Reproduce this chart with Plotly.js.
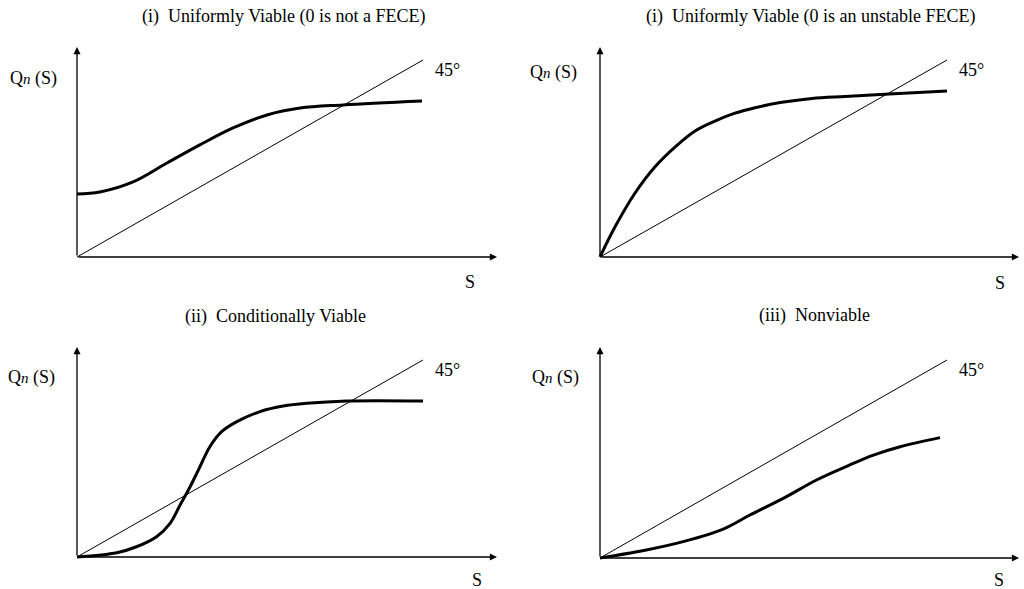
<!DOCTYPE html>
<html><head><meta charset="utf-8">
<script src="https://cdn.plot.ly/plotly-3.0.1.min.js"></script>
<style>html,body{margin:0;padding:0;background:#fff}#chart{width:1024px;height:589px}</style>
</head><body><div id="chart"></div>
<script>
// ---- data ----
const panelTitles = [
  "(i)\u00A0 Uniformly Viable (0 is not a FECE)",
  "(i)\u00A0 Uniformly Viable (0 is an unstable FECE)",
  "(ii)\u00A0 Conditionally Viable",
  "(iii)\u00A0 Nonviable"
];
const yLabel = "Q<i><span style=\"font-size:15px\">n</span></i> (S)";
const xLabel = "S";
const diagLabel = "45°";
const diagX = [0, 10];
const diagY = [0, 10];
const curve1X = [0, 0.66, 1.62, 2.6, 3.55, 4.51, 5.49, 6.45, 7.69, 9.97];
const curve1Y = [3.2, 3.30, 3.81, 4.77, 5.69, 6.55, 7.21, 7.56, 7.72, 7.92];
const curve2X = [0, 0.43, 1.01, 1.58, 2.16, 2.74, 3.31, 3.89, 4.47, 5.24, 6.11, 7.06, 8.33, 10];
const curve2Y = [0, 1.52, 3.25, 4.57, 5.58, 6.40, 6.90, 7.30, 7.58, 7.85, 8.05, 8.15, 8.27, 8.43];
const curve3X = [0, 1.15, 1.72, 2.30, 2.69, 2.98, 3.22, 3.51, 3.84, 4.18, 4.62, 5.29, 5.96, 6.64, 7.80, 10];
const curve3Y = [0, 0.22, 0.52, 1.03, 1.71, 2.64, 3.40, 4.42, 5.60, 6.36, 6.87, 7.38, 7.66, 7.80, 7.92, 7.92];
const curve4X = [0, 1.30, 2.45, 3.55, 4.32, 5.28, 6.24, 7.20, 7.88, 8.65, 9.80];
const curve4Y = [0, 0.39, 0.85, 1.46, 2.17, 3.01, 3.94, 4.70, 5.20, 5.62, 6.08];
const curvesX = [curve1X, curve2X, curve3X, curve4X];
const curvesY = [curve1Y, curve2Y, curve3Y, curve4Y];

// ---- layout geometry (pixels) ----
const W = 1024, H = 589;
const geo = [
  {ox: 77,  oy: 257, ux: 34.6, uy: 19.7, tipX: 497,  tipY: 47,  title: [284, 16], ql: [33, 78],  dl: [447, 70],  sl: [470, 282]},
  {ox: 600, oy: 257, ux: 34.7, uy: 19.7, tipX: 1019, tipY: 47,  title: [811, 16], ql: [553, 73], dl: [971, 70],  sl: [1000, 283]},
  {ox: 77,  oy: 557, ux: 34.6, uy: 19.7, tipX: 497,  tipY: 347, title: [275, 316], ql: [31, 378], dl: [447, 370], sl: [477, 580]},
  {ox: 600, oy: 558, ux: 34.7, uy: 19.8, tipX: 1019, tipY: 347, title: [814, 315], ql: [555, 377], dl: [971, 370], sl: [999, 580]}
];
const font = {family: "Liberation Serif, Times New Roman, serif", size: 18, color: "#000"};
const P = (px, py) => ({x: px / W, y: 1 - py / H});

const traces = [];
const layout = {
  width: W, height: H, margin: {l: 0, r: 0, t: 0, b: 0},
  paper_bgcolor: "#fff", plot_bgcolor: "rgba(0,0,0,0)",
  showlegend: false, annotations: [], font: font
};

geo.forEach((g, i) => {
  const n = i === 0 ? "" : String(i + 1);
  const xa = "x" + n, ya = "y" + n;
  const left = g.ox - 14, right = Math.min(W, g.tipX + 5);
  const bottom = g.oy + 10, top = g.tipY - 5;
  layout["xaxis" + n] = {
    domain: [left / W, right / W],
    range: [(left - g.ox) / g.ux, (right - g.ox) / g.ux],
    visible: false, fixedrange: true, anchor: ya
  };
  layout["yaxis" + n] = {
    domain: [1 - bottom / H, 1 - top / H],
    range: [(g.oy - bottom) / g.uy, (g.oy - top) / g.uy],
    visible: false, fixedrange: true, anchor: xa
  };
  traces.push({x: diagX, y: diagY, xaxis: xa, yaxis: ya, mode: "lines",
    line: {color: "#000", width: 1}, hoverinfo: "skip"});
  traces.push({x: curvesX[i], y: curvesY[i], xaxis: xa, yaxis: ya, mode: "lines",
    line: {color: "#000", width: 3, shape: "spline", smoothing: 1}, hoverinfo: "skip"});
  // axis arrows
  const arrowBase = {text: "", showarrow: true, arrowhead: 2, arrowsize: 1.1, arrowwidth: 1.3,
    arrowcolor: "#000", xref: xa, yref: ya, axref: xa, ayref: ya, ax: 0, ay: 0, standoff: 0, startstandoff: 0};
  layout.annotations.push(Object.assign({}, arrowBase, {x: (g.tipX - g.ox) / g.ux, y: 0}));
  layout.annotations.push(Object.assign({}, arrowBase, {x: 0, y: (g.oy - g.tipY) / g.uy}));
  const txt = (t, pos, size) => Object.assign({text: t, showarrow: false, xref: "paper", yref: "paper",
    xanchor: "center", yanchor: "middle", font: Object.assign({}, font, {size: size || 18})}, P(pos[0], pos[1]));
  layout.annotations.push(txt(panelTitles[i], g.title, 18));
  layout.annotations.push(txt(yLabel, g.ql, 18));
  layout.annotations.push(txt(diagLabel, g.dl, 18));
  layout.annotations.push(txt(xLabel, g.sl, 18));
});

Plotly.newPlot("chart", traces, layout, {displayModeBar: false, staticPlot: true});
</script>
</body></html>
